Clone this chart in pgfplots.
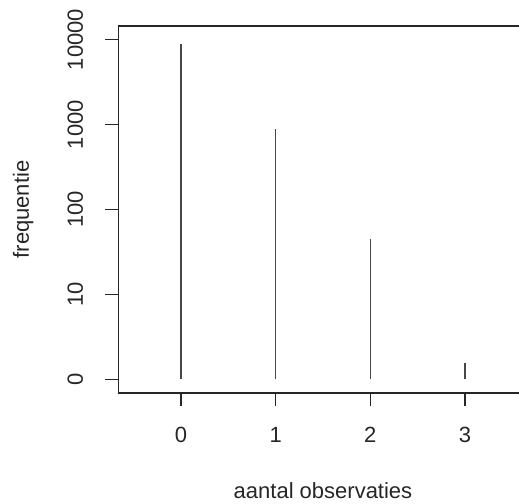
\documentclass[border=0pt]{standalone}
\usepackage{fontspec}
\setmainfont{Liberation Sans}
\usepackage{pgfplots}
\pgfplotsset{compat=1.18}
\begin{document}
\begin{tikzpicture}
\begin{axis}[
  scale only axis,
  width=409pt, height=367pt,
  xmin=-0.66, xmax=3.66,
  ymode=log, ymin=0.6918, ymax=14454,
  axis line style={line width=1.3pt, black!85},
  xtick={0,1,2,3}, xticklabels={0,1,2,3},
  ytick={1,10,100,1000,10000}, yticklabels={0,10,100,1000,10000},
  yminorticks=false,
  tick align=outside, major tick length=13pt,
  xtick pos=bottom, ytick pos=left,
  tick style={line width=1.2pt, black!85},
  every tick label/.append style={font=\fontsize{22}{26}\selectfont, black!85},
  yticklabel style={rotate=90, anchor=base, inner sep=0pt},
  xticklabel style={anchor=base, inner sep=0pt},
  yticklabel shift=22.5pt,
  xticklabel shift=36pt,
  label style={font=\fontsize{22}{26}\selectfont, black!85},
  xlabel={aantal observaties},
  ylabel={frequentie},
  xlabel style={at={([yshift=-105pt]axis description cs:0.5,0)}, anchor=base},
  ylabel style={at={([xshift=-89.5pt]axis description cs:0,0.5)}, anchor=base},
]
% frequentie per aantal observaties
\addplot[ycomb, line width=1.5pt, black!72, no marks] coordinates {
  (0,8950) (1,896) (2,44.5) (3,1.54)
};
\end{axis}
\pgfresetboundingbox
\useasboundingbox (-118.5pt,-110pt) rectangle (400.5pt,393pt);
\end{tikzpicture}
\end{document}
